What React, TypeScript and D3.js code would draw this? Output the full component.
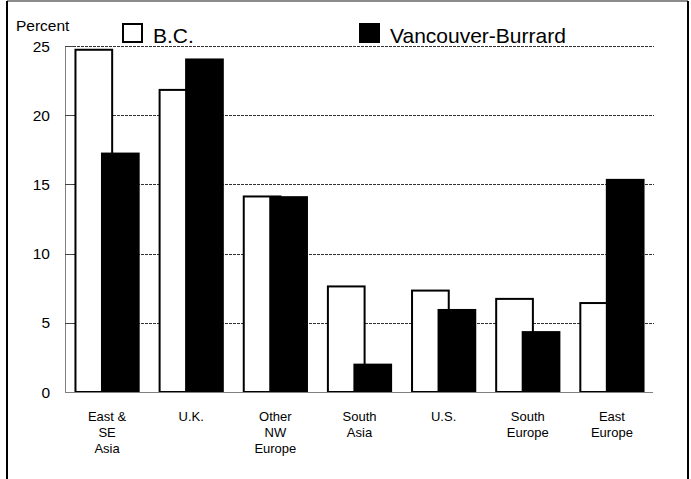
import React, { useEffect, useRef } from 'react';
import * as d3 from 'd3';

const categories = ['East & SE Asia', 'U.K.', 'Other NW Europe', 'South Asia', 'U.S.', 'South Europe', 'East Europe'];
const categoryLines = [['East &', 'SE', 'Asia'], ['U.K.'], ['Other', 'NW', 'Europe'], ['South', 'Asia'], ['U.S.'], ['South', 'Europe'], ['East', 'Europe']];
const bcValues = [24.8, 21.9, 14.2, 7.7, 7.4, 6.8, 6.5];
const vancouverValues = [17.3, 24.1, 14.15, 2.05, 6.0, 4.4, 15.4];
const yTicks = [0, 5, 10, 15, 20, 25];
const seriesNames = ['B.C.', 'Vancouver-Burrard'];

const FONT = "Arial, 'Liberation Sans', sans-serif";

export default function App() {
  const svgRef = useRef<SVGSVGElement>(null);
  const width = 691;
  const height = 479;

  useEffect(() => {
    if (!svgRef.current) return;
    const svg = d3.select(svgRef.current);
    svg.selectAll('*').remove();

    const plot = { left: 65, right: 654, top: 46, bottom: 392 };

    const x = d3.scaleBand<string>().domain(categories).range([plot.left, plot.right]);
    const y = d3.scaleLinear().domain([0, 25]).range([plot.bottom, plot.top]);
    const bw = x.bandwidth();
    const groupW = bw * 0.775;
    const barW = bw * 0.46;

    // outer frame
    svg.append('line').attr('x1', 7).attr('x2', 688).attr('y1', 1).attr('y2', 1)
      .attr('stroke', '#666').attr('stroke-width', 1.5);
    svg.append('line').attr('x1', 7).attr('x2', 7).attr('y1', 1).attr('y2', height)
      .attr('stroke', '#000').attr('stroke-width', 2);
    svg.append('line').attr('x1', 688).attr('x2', 688).attr('y1', 1).attr('y2', height)
      .attr('stroke', '#000').attr('stroke-width', 2);

    // gridlines
    svg.append('g').selectAll('line')
      .data(yTicks.filter(d => d > 0))
      .join('line')
      .attr('x1', plot.left).attr('x2', plot.right)
      .attr('y1', d => Math.round(y(d)) + 0.5).attr('y2', d => Math.round(y(d)) + 0.5)
      .attr('stroke', '#333').attr('stroke-width', 1)
      .attr('stroke-dasharray', '3,1');

    // axes
    svg.append('line').attr('x1', plot.left + 0.5).attr('x2', plot.left + 0.5)
      .attr('y1', plot.top).attr('y2', plot.bottom)
      .attr('stroke', '#808080').attr('stroke-width', 1);
    svg.append('g').selectAll('line')
      .data(yTicks)
      .join('line')
      .attr('x1', plot.left).attr('x2', plot.left + 8)
      .attr('y1', d => Math.round(y(d)) + 0.5).attr('y2', d => Math.round(y(d)) + 0.5)
      .attr('stroke', '#444').attr('stroke-width', 1);

    svg.append('g').selectAll('text')
      .data(yTicks)
      .join('text')
      .attr('x', 50).attr('y', d => y(d) + 5.5)
      .attr('text-anchor', 'end')
      .attr('font-family', FONT).attr('font-size', 15.5)
      .text(d => d);

    svg.append('text').attr('x', 16).attr('y', 30.5)
      .attr('font-family', FONT).attr('font-size', 15.5)
      .text('Percent');

    // bars
    const groups = svg.append('g').selectAll('g')
      .data(categories)
      .join('g');

    groups.append('rect')
      .attr('x', (d) => x(d)! + bw / 2 - groupW / 2 + 1)
      .attr('y', (d, i) => y(bcValues[i]) + 1)
      .attr('width', barW - 2)
      .attr('height', (d, i) => plot.bottom - y(bcValues[i]) - 1)
      .attr('fill', '#fff').attr('stroke', '#000').attr('stroke-width', 2);

    groups.append('rect')
      .attr('x', (d) => x(d)! + bw / 2 + groupW / 2 - barW)
      .attr('y', (d, i) => y(vancouverValues[i]))
      .attr('width', barW)
      .attr('height', (d, i) => plot.bottom - y(vancouverValues[i]))
      .attr('fill', '#000');

    // baseline
    svg.append('line').attr('x1', plot.left).attr('x2', plot.right - 1)
      .attr('y1', plot.bottom + 0.5).attr('y2', plot.bottom + 0.5)
      .attr('stroke', '#808080').attr('stroke-width', 1);

    // category labels
    const labels = svg.append('g').selectAll('text')
      .data(categories)
      .join('text')
      .attr('text-anchor', 'middle')
      .attr('font-family', FONT).attr('font-size', 13);
    labels.each(function (d, i) {
      d3.select(this).selectAll('tspan')
        .data(categoryLines[i])
        .join('tspan')
        .attr('x', x(d)! + bw / 2)
        .attr('y', (_, j) => 421 + j * 16)
        .text(t => t);
    });

    // legend
    const legend = svg.append('g');
    legend.append('rect').attr('x', 123).attr('y', 24).attr('width', 19).attr('height', 18)
      .attr('fill', '#fff').attr('stroke', '#000').attr('stroke-width', 2);
    legend.append('text').attr('x', 153).attr('y', 43)
      .attr('font-family', FONT).attr('font-size', 21).text(seriesNames[0]);
    legend.append('rect').attr('x', 359).attr('y', 23).attr('width', 21).attr('height', 20)
      .attr('fill', '#000');
    legend.append('text').attr('x', 390).attr('y', 43)
      .attr('font-family', FONT).attr('font-size', 21).text(seriesNames[1]);
  }, []);

  return (
    <svg
      ref={svgRef}
      width={width}
      height={height}
      style={{ position: 'absolute', left: 0, top: 0, background: '#fff' }}
    />
  );
}
